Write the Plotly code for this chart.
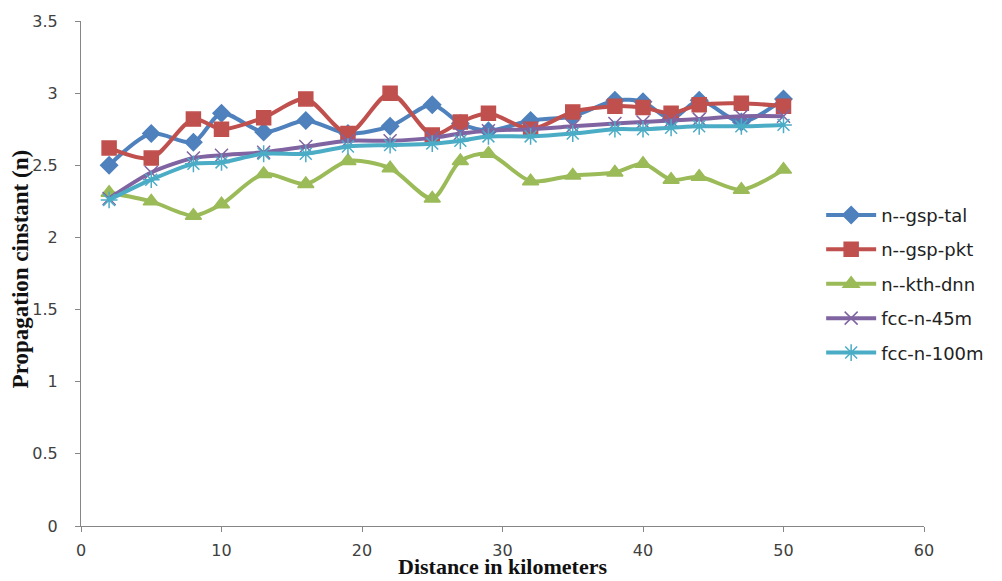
import plotly.graph_objects as go

distance = [2, 5, 8, 10, 13, 16, 19, 22, 25, 27, 29, 32, 35, 38, 40, 42, 44, 47, 50]
gsp_tal = [2.50, 2.72, 2.66, 2.86, 2.73, 2.81, 2.72, 2.77, 2.92, 2.79, 2.74, 2.81, 2.84, 2.95, 2.94, 2.82, 2.95, 2.80, 2.96]
gsp_pkt = [2.62, 2.55, 2.82, 2.75, 2.83, 2.96, 2.72, 3.00, 2.71, 2.80, 2.86, 2.75, 2.87, 2.91, 2.90, 2.86, 2.92, 2.93, 2.91]
kth_dnn = [2.31, 2.25, 2.15, 2.23, 2.44, 2.37, 2.53, 2.48, 2.27, 2.53, 2.58, 2.39, 2.43, 2.45, 2.51, 2.40, 2.42, 2.33, 2.47]
fcc_45m = [2.27, 2.45, 2.55, 2.57, 2.59, 2.63, 2.67, 2.67, 2.69, 2.72, 2.74, 2.75, 2.77, 2.79, 2.80, 2.81, 2.82, 2.84, 2.84]
fcc_100m = [2.26, 2.40, 2.51, 2.52, 2.58, 2.58, 2.63, 2.64, 2.65, 2.67, 2.70, 2.70, 2.72, 2.75, 2.75, 2.76, 2.77, 2.77, 2.78]

series = [
    ("n--gsp-tal", gsp_tal, "#4F81BD", "diamond", 13),
    ("n--gsp-pkt", gsp_pkt, "#C0504D", "square", 14),
    ("n--kth-dnn", kth_dnn, "#9BBB59", "triangle-up", 14),
    ("fcc-n-45m", fcc_45m, "#8064A2", "x-thin-open", 13),
    ("fcc-n-100m", fcc_100m, "#4BACC6", "asterisk-open", 14),
]

fig = go.Figure()
for name, vals, color, sym, size in series:
    fig.add_trace(go.Scatter(
        x=distance, y=vals, name=name, mode="lines+markers",
        legendgroup=name,
        line=dict(color=color, width=4, shape="spline", smoothing=0.8),
        marker=dict(symbol=sym, size=size, color=color,
                    line=dict(color=color, width=1.5)),
    ))

axis_font = dict(family="DejaVu Sans", size=16, color="#404040")
fig.update_layout(
    width=1002, height=581,
    margin=dict(l=81, r=78, t=15, b=55),
    paper_bgcolor="white", plot_bgcolor="white",
    showlegend=True,
    legend=dict(x=0.878, y=0.652, xanchor="left", yanchor="top",
                font=dict(family="DejaVu Sans", size=18, color="#222"),
                itemwidth=50,
                tracegroupgap=8, bgcolor="rgba(0,0,0,0)"),
    xaxis=dict(range=[0, 60], dtick=10, showgrid=False, zeroline=False,
               showline=True, linecolor="#868686", linewidth=1,
               ticks="outside", ticklen=5, tickcolor="#868686",
               tickfont=axis_font, ticklabelstandoff=5,
               ticklabeloverflow="allow"),
    yaxis=dict(range=[0, 3.5], dtick=0.5, showgrid=False, zeroline=False,
               showline=True, linecolor="#868686", linewidth=1,
               ticks="outside", ticklen=5, tickcolor="#868686",
               tickfont=axis_font, ticklabelstandoff=14,
               ticklabeloverflow="allow"),
    annotations=[
        dict(text="<b>Propagation cinstant (n)</b>", xref="paper", yref="paper",
             x=-0.0724, y=0.51, xanchor="center", yanchor="middle", textangle=-90,
             showarrow=False, font=dict(family="Liberation Serif", size=23, color="#111")),
        dict(text="<b>Distance in kilometers</b>", xref="paper", yref="paper",
             x=0.5, y=-0.081, xanchor="center", yanchor="middle",
             showarrow=False, font=dict(family="Liberation Serif", size=22, color="#111")),
    ],
)

fix_page = (
    "document.documentElement.style.margin='0';"
    "document.body.style.margin='0';"
    "document.body.style.overflow='hidden';"
    "var gd=document.getElementById('{plot_id}');"
    "Plotly.relayout(gd,{width:1002,height:581});"
)

fig.write_html("out.html", post_script=fix_page, config={"displayModeBar": False})
